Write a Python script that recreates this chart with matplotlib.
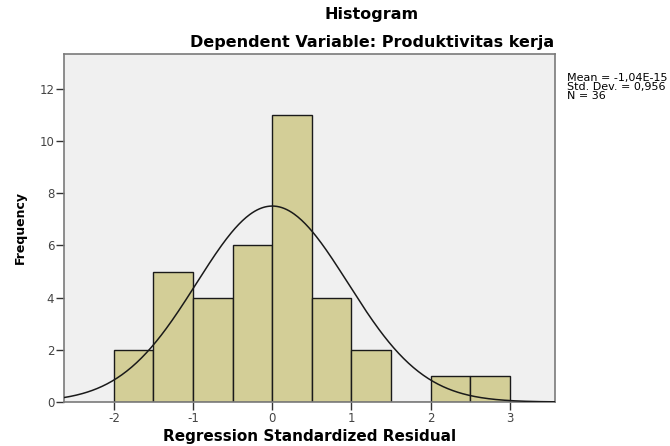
import numpy as np
import matplotlib
matplotlib.use("Agg")
import matplotlib.pyplot as plt

plt.rcParams.update({
    "font.family": ["DejaVu Sans"],
})

# histogram bins (regression standardized residual) and counts
bin_edges = [-2.0, -1.5, -1.0, -0.5, 0.0, 0.5, 1.0, 1.5, 2.0, 2.5, 3.0]
counts = [2, 5, 4, 6, 11, 4, 2, 0, 1, 1]

# summary stats shown in the chart
mean = -1.04e-15
std_dev = 0.956
n_obs = 36

x_ticks = [-2, -1, 0, 1, 2, 3]
y_ticks = [0, 2, 4, 6, 8, 10, 12]

fig = plt.figure(figsize=(6.7, 4.46), dpi=100)
ax = fig.add_axes([64 / 670, 44 / 446, 491 / 670, 348 / 446])
ax.set_facecolor("#f0f0f0")

lefts = bin_edges[:-1]
widths = np.diff(bin_edges)
ax.bar(lefts, counts, width=widths, align="edge", color="#d3ce97",
       edgecolor="#1a1a1a", linewidth=1.0, zorder=2)

# normal curve scaled to counts (from the mean / sd / N in the legend box)
xmin, xmax = -2.63, 3.57
bw = widths[0]
xs = np.linspace(xmin, xmax, 400)
ys = n_obs * bw / (std_dev * np.sqrt(2 * np.pi)) * np.exp(-0.5 * ((xs - mean) / std_dev) ** 2)
ax.plot(xs, ys, color="#1a1a1a", linewidth=1.1, zorder=3)

ax.set_xlim(xmin, xmax)
ax.set_ylim(0, 13.34)
ax.set_xticks(x_ticks)
ax.set_xticklabels([str(t) for t in x_ticks])
ax.set_yticks(y_ticks)
ax.tick_params(axis="both", direction="out", length=6, width=1.0,
               color="#333333", labelcolor="#444444", labelsize=8.5, pad=1)
for side in ("left", "bottom", "right", "top"):
    ax.spines[side].set_color("#7a7a7a")
    ax.spines[side].set_linewidth(1.2)

ax.set_xlabel("Regression Standardized Residual", fontsize=11, fontweight="bold",
              va="center")
ax.xaxis.set_label_coords(0.5, -34 / 348)
ax.set_ylabel("Frequency", fontsize=9, fontweight="bold", labelpad=9)

fig.text(372 / 670, 1 - 15 / 446, "Histogram", ha="center", va="center",
         fontsize=11.5, fontweight="bold")
fig.text(372 / 670, 1 - 42 / 446, "Dependent Variable: Produktivitas kerja",
         ha="center", va="center", fontsize=11.5, fontweight="bold")

stats = "Mean = -1,04E-15\nStd. Dev. = 0,956\nN = %d" % n_obs
fig.text(567 / 670, 1 - 73 / 446, stats, ha="left", va="top", fontsize=8,
         linespacing=0.9)

fig.savefig("out.png", dpi=100)
